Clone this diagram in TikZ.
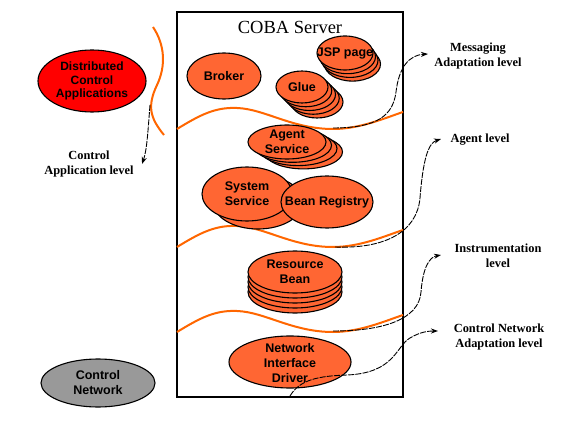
\documentclass[tikz,border=0pt]{standalone}
\usepackage{fontspec}
\setmainfont{Liberation Serif}
\setsansfont{Liberation Sans}
\usetikzlibrary{shapes.geometric,arrows.meta}
\definecolor{cobaorange}{HTML}{FF6633}
\definecolor{waveorange}{HTML}{FF6600}
\definecolor{appred}{HTML}{FF0000}
\definecolor{netgray}{HTML}{999999}
\tikzset{
  oval/.style={ellipse, draw, line width=1.1pt, fill=cobaorange, inner sep=0pt},
  ovaltext/.style={inner sep=0pt, font=\sffamily\bfseries\fontsize{12.5}{15}\selectfont, align=center},
  stackcopy/.style={draw, line width=1.1pt, fill=cobaorange},
  wave/.style={draw=waveorange, line width=2pt},
  lbl/.style={font=\rmfamily\bfseries\fontsize{12.4}{15}\selectfont, align=center, inner sep=0pt},
  conn/.style={draw, line width=0.9pt, dash pattern=on 6pt off 1.2pt, -{Stealth[length=7pt,width=5pt]}},
}
\begin{document}
\begin{tikzpicture}[x=1pt,y=-1pt]
\useasboundingbox (0,0) rectangle (561,435);

% server box
\node[draw, line width=1.4pt, minimum width=226pt, minimum height=385pt, inner sep=0pt] (server) at (290,204.5) {};
\node[font=\rmfamily\fontsize{18.5}{20}\selectfont, inner sep=0pt] (title) at (290,27) {COBA Server};

% orange waves
\foreach \b in {129,247,332} {
  \draw[wave] (177,\b) .. controls (200,{\b-14}) and (215,{\b-22}) .. (237,{\b-21})
     .. controls (265,{\b-20}) and (292,\b) .. (333,\b)
     .. controls (360,\b) and (385,{\b-11}) .. (403,{\b-17});
}
\draw[wave] (153,27) .. controls (165,45) and (166,66) .. (157,85)
   .. controls (147,106) and (150,118) .. (164,135);

% Broker
\node[oval, minimum width=74pt, minimum height=46pt] (broker) at (224,76) {};
\node[ovaltext] (brokert) at (broker.center) {Broker};

% JSP page stack
\foreach \k in {3,2,1}
  \filldraw[stackcopy] ({345+2.5*\k},{53+3.7*\k}) ellipse [x radius=28pt, y radius=17pt];
\node[oval, minimum width=56pt, minimum height=34pt] (jsp) at (345,53) {};
\node[ovaltext] (jspt) at (jsp.center) {JSP page};

% Glue stack
\foreach \k in {4,3,2,1}
  \filldraw[stackcopy] ({302+3.75*\k},{87+3.75*\k}) ellipse [x radius=26pt, y radius=16pt];
\node[oval, minimum width=52pt, minimum height=32pt] (glue) at (302,87) {};
\node[ovaltext] (gluet) at (glue.center) {Glue};

% Agent Service stack
\foreach \k in {3,2,1}
  \filldraw[stackcopy] ({287+5.5*\k},{142+3.3*\k}) ellipse [x radius=39pt, y radius=17pt];
\node[oval, minimum width=78pt, minimum height=34pt] (agent) at (287,142) {};
\node[ovaltext] (agentt) at (agent.center) {Agent\\Service};

% System Service
\filldraw[stackcopy] (258,202) ellipse [x radius=45pt, y radius=27pt];
\node[oval, minimum width=90pt, minimum height=54pt] (system) at (247,194) {};
\node[ovaltext] (systemt) at (system.center) {System\\Service};

% Bean Registry
\node[oval, minimum width=92pt, minimum height=52pt] (bean) at (327,202) {};
\node[ovaltext] (beant) at (bean.center) {Bean Registry};

% Resource Bean stack
\foreach \k in {4,3,2,1}
  \filldraw[stackcopy] (295,{272+5*\k}) ellipse [x radius=47pt, y radius=21pt];
\node[oval, minimum width=94pt, minimum height=42pt] (resource) at (295,272) {};
\node[ovaltext] (resourcet) at (resource.center) {Resource\\Bean};

% Network Interface Driver
\node[oval, minimum width=122pt, minimum height=52pt] (nid) at (290,362) {};
\node[ovaltext] (nidt) at ([yshift=-1pt]nid.center) {Network\\Interface\\Driver};

% left ellipses
\node[oval, fill=appred, minimum width=108pt, minimum height=62pt] (dca) at (92,81) {};
\node[ovaltext, font=\sffamily\bfseries\fontsize{12}{13.5}\selectfont] (dcat) at (dca.center) {Distributed\\Control\\Applications};
\node[oval, fill=netgray, minimum width=114pt, minimum height=48pt] (cn) at (98,383) {};
\node[ovaltext] (cnt) at (cn.center) {Control\\Network};

% labels
\node[lbl] (msg) at (478,56) {Messaging\\Adaptation level};
\node[lbl] (agl) at (480,140) {Agent level};
\node[lbl] (instr) at (498,256) {Instrumentation\\level};
\node[lbl] (cnal) at (499,337) {Control Network\\Adaptation level};
\node[lbl] (cal) at (89,164) {Control\\Application level};

% connector end points
\coordinate (s1) at (333,128);  \coordinate (t1) at (428,54);
\coordinate (s2) at (335,247);  \coordinate (t2) at (441,139);
\coordinate (s3) at (333,331);  \coordinate (t3) at (441,255);
\coordinate (s4) at (290,396);  \coordinate (t4) at (438,331);
\coordinate (s5) at (150,105);  \coordinate (t5) at (142,164);

% connectors
\draw[conn] (s1) .. controls (378,128) and (393,115) .. (396,92)
   .. controls (399,66) and (410,55) .. (t1);
\draw[conn] (s2) .. controls (385,249) and (417,232) .. (420,198)
   .. controls (423,160) and (428,143) .. (t2);
\draw[conn] (s3) .. controls (382,331) and (419,320) .. (421,292)
   .. controls (423,266) and (430,257) .. (t3);
\draw[conn] (s4) .. controls (300,379) and (320,376) .. (347,375)
   .. controls (395,373) and (396,346) .. (410,338)
   .. controls (420,332) and (428,331) .. (t4);
\draw[conn] (s5) .. controls (148,130) and (147,150) .. (t5);
\end{tikzpicture}
\end{document}
